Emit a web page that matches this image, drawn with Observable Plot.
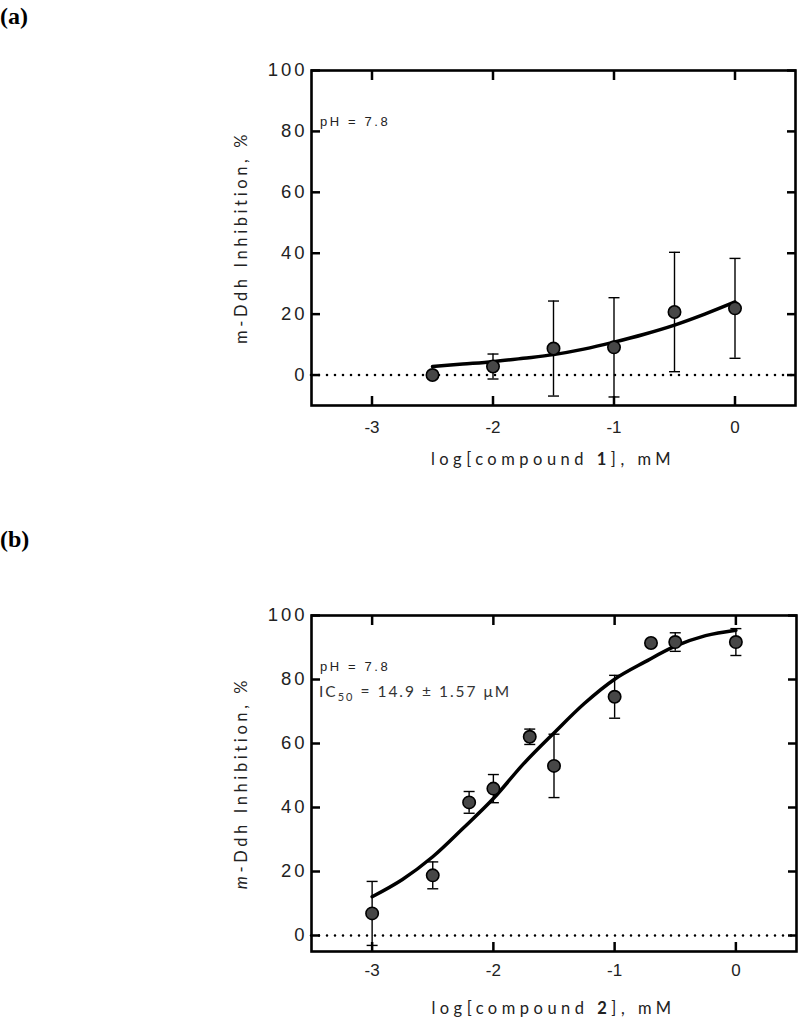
<!DOCTYPE html>
<html><head><meta charset="utf-8">
<script src="https://cdn.jsdelivr.net/npm/d3@7"></script>
<script src="https://cdn.jsdelivr.net/npm/@observablehq/plot@0.6"></script>
<style>
body{margin:0;background:#fff;}
#wrap{position:relative;width:800px;height:1021px;overflow:hidden;background:#fff;}
.plabel{position:absolute;left:0;font:bold 24px "Liberation Serif",serif;line-height:1;}
.panel{position:absolute;left:0;}
</style></head><body>
<div id="wrap">
<div class="plabel" style="top:4px">(a)</div>
<div class="plabel" style="top:527px">(b)</div>
<div class="panel" id="pa" style="top:0px"></div>
<div class="panel" id="pb" style="top:520px"></div>
</div>
<script>
// ---- data ----
const xTicks = [-3, -2, -1, 0];
const yTicks = [0, 20, 40, 60, 80, 100];

// panel (a): compound 1
const logConcA = [-2.5, -2, -1.5, -1, -0.5, 0];
const inhibA   = [0, 2.8, 8.7, 9.1, 20.7, 21.9];
const sdA      = [0, 4.1, 15.6, 16.3, 19.6, 16.4];
const fitXA = [-2.5, -2.25, -2, -1.75, -1.5, -1.25, -1, -0.75, -0.5, -0.25, 0];
const fitYA = [2.8, 3.6, 4.4, 5.5, 6.7, 8.5, 10.8, 13.4, 16.4, 20.0, 24.0];

// panel (b): compound 2
const logConcB = [-3, -2.5, -2.2, -2, -1.7, -1.5, -1, -0.7, -0.5, 0];
const inhibB   = [6.9, 18.8, 41.6, 45.9, 62.1, 53.0, 74.6, 91.4, 91.7, 91.7];
const sdB      = [10.0, 4.2, 3.4, 4.4, 2.4, 9.9, 6.7, 0, 2.9, 4.2];
const fitXB = [-3, -2.75, -2.5, -2.25, -2, -1.75, -1.5, -1.25, -1, -0.75, -0.5, -0.25, 0];
const fitYB = [12.1, 17.5, 24.6, 33.5, 42.8, 53.7, 63.3, 72.5, 80.1, 85.5, 90.4, 93.7, 95.4];

// ---- drawing ----
const capSymbol = {
  draw(context, size) {
    const w = Math.sqrt(size / Math.PI);
    context.moveTo(-w, 0);
    context.lineTo(w, 0);
  }
};

function drawPanel(el, cfg) {
  const pts = cfg.x.map((x, i) => ({x, y: cfg.y[i], sd: cfg.sd[i]}));
  const bars = pts.filter(d => d.sd > 0);
  const fit = cfg.fitX.map((x, i) => ({x, y: cfg.fitY[i]}));
  const x0 = 311, x1 = 800 - cfg.marginRight;
  const y0 = cfg.marginTop, y1 = cfg.height - cfg.marginBottom;
  const svg = Plot.plot({
    width: 800, height: cfg.height,
    marginTop: cfg.marginTop, marginBottom: cfg.marginBottom,
    marginLeft: 311, marginRight: cfg.marginRight,
    x: {domain: [-3.5, 0.5]},
    y: {domain: [cfg.yMin, 100]},
    marks: [
      Plot.ruleY([0], {stroke: "black", strokeWidth: 2.6, strokeDasharray: "0,8", strokeLinecap: "round"}),
      // error bars
      Plot.ruleX(bars, {x: "x", y1: d => d.y - d.sd, y2: d => d.y + d.sd, stroke: "black", strokeWidth: 1.4}),
      Plot.dot(bars, {x: "x", y: d => d.y + d.sd, symbol: capSymbol, r: 5.5, stroke: "black", strokeWidth: 1.4}),
      Plot.dot(bars, {x: "x", y: d => d.y - d.sd, symbol: capSymbol, r: 5.5, stroke: "black", strokeWidth: 1.4}),
      Plot.line(fit, {x: "x", y: "y", curve: "catmull-rom", stroke: "black", strokeWidth: 3.5}),
      Plot.dot(pts, {x: "x", y: "y", r: 6.2, fill: "#474747", stroke: "black", strokeWidth: 1.6}),
      Plot.axisX(xTicks, {anchor: "bottom", tickSize: 0, tickPadding: cfg.xLabelPad, fontSize: 17, fontFamily: "Liberation Sans", tickFormat: d => String(d), label: null}),
      Plot.axisY(yTicks, {anchor: "left", tickSize: 0, tickPadding: 4, fontSize: 18.5, fontFamily: "Liberation Sans", tickFormat: d => String(d), label: null}),
      Plot.frame({stroke: "black", strokeWidth: 2.6}),
      // inward ticks on all four sides (drawn last)
      Plot.axisX(xTicks, {anchor: "bottom", tickSize: -9, strokeWidth: 2.5, stroke: "black", tickFormat: () => "", label: null}),
      Plot.axisX(xTicks, {anchor: "top", tickSize: -9, strokeWidth: 2.5, stroke: "black", tickFormat: () => "", label: null}),
      Plot.axisY(yTicks, {anchor: "left", tickSize: -9, strokeWidth: 2.5, stroke: "black", tickFormat: () => "", label: null}),
      Plot.axisY(yTicks, {anchor: "right", tickSize: -9, strokeWidth: 2.5, stroke: "black", tickFormat: () => "", label: null})
    ]
  });
  const s = d3.select(svg);
  s.selectAll('g[aria-label="y-axis tick label"]').attr("letter-spacing", 3).attr("fill", "#222");
  s.selectAll('g[aria-label="x-axis tick label"]').attr("fill", "#222");

  // annotations
  s.append("text")
    .attr("x", x0 + 9).attr("y", y0 + 56)
    .attr("text-anchor", "start")
    .attr("font-family", "Liberation Sans").attr("font-size", 13)
    .attr("letter-spacing", 2.6).attr("fill", "#222")
    .text("pH = 7.8");
  if (cfg.ic50) {
    const t = s.append("text")
      .attr("x", x0 + 8).attr("y", y0 + 82)
      .attr("text-anchor", "start")
      .attr("font-family", "Lato").attr("font-size", 15.5)
      .attr("letter-spacing", 2.0).attr("fill", "#333");
    t.append("tspan").text("IC");
    t.append("tspan").attr("dy", 4).attr("font-size", 11).text("50");
    t.append("tspan").attr("dy", -4).text(" = " + cfg.ic50);
  }

  // x title
  const xt = s.append("text")
    .attr("x", (x0 + x1) / 2).attr("y", y1 + cfg.xTitleOff)
    .attr("text-anchor", "middle")
    .attr("font-family", "Lato").attr("font-size", 16.5)
    .attr("letter-spacing", 4.5).attr("fill", "#222");
  xt.append("tspan").text("log[compound ");
  xt.append("tspan").attr("font-weight", "bold").text(cfg.compound);
  xt.append("tspan").text("], mM");

  // y title
  const yt = s.append("text")
    .attr("transform", `translate(247,${(y0 + y1) / 2}) rotate(-90)`)
    .attr("text-anchor", "middle")
    .attr("font-family", "Lato").attr("font-size", 16.5)
    .attr("letter-spacing", 3.6).attr("fill", "#222");
  const m = yt.append("tspan").text("m");
  if (cfg.italicM) m.attr("font-style", "italic");
  yt.append("tspan").text("-Ddh Inhibition, %");

  document.getElementById(el).appendChild(svg);
}

drawPanel("pa", {
  x: logConcA, y: inhibA, sd: sdA, fitX: fitXA, fitY: fitYA,
  yMin: -10, height: 500, marginTop: 70, marginBottom: 95, marginRight: 5,
  xLabelPad: 15, xTitleOff: 60, compound: "1", italicM: false, ic50: null
});
drawPanel("pb", {
  x: logConcB, y: inhibB, sd: sdB, fitX: fitXB, fitY: fitYB,
  yMin: -5, height: 501, marginTop: 95, marginBottom: 70, marginRight: 4,
  xLabelPad: 12, xTitleOff: 63, compound: "2", italicM: true, ic50: "14.9 \u00b1 1.57 \u03bcM"
});
</script>
</body></html>
